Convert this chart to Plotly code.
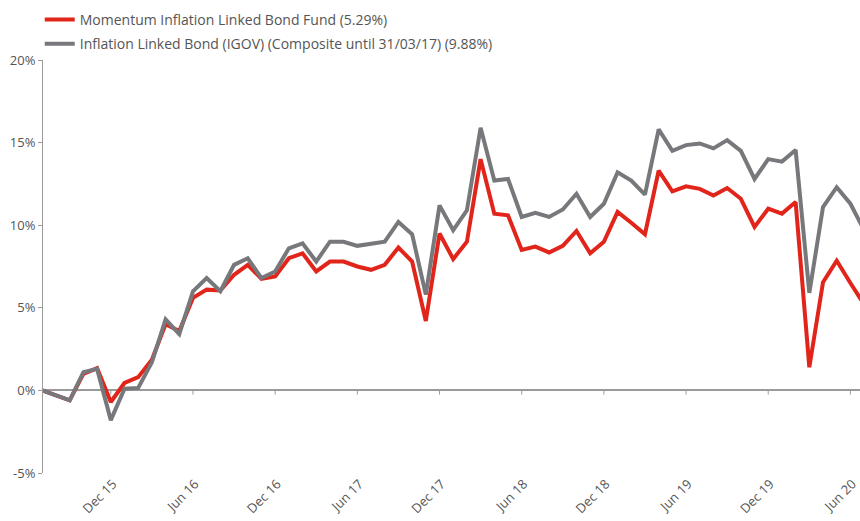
import plotly.graph_objects as go

# Monthly categories Jul 15 .. Jul 20
years = ["15", "16", "17", "18", "19", "20"]
mnames = ["Jan", "Feb", "Mar", "Apr", "May", "Jun", "Jul", "Aug", "Sep", "Oct", "Nov", "Dec"]
months = []
for yy in years:
    for mi, mm in enumerate(mnames):
        if yy == "15" and mi < 6:
            continue
        if yy == "20" and mi > 6:
            continue
        months.append(f"{mm} {yy}")

fund_name = "Momentum Inflation Linked Bond Fund (5.29%)"
bench_name = "Inflation Linked Bond (IGOV) (Composite until 31/03/17) (9.88%)"

fund = [0, -0.3, -0.6, 1.0, 1.35, -0.7, 0.45, 0.8, 1.85, 4.0,
        3.6, 5.6, 6.1, 6.05, 7.0, 7.6, 6.75, 6.9, 8.0, 8.3,
        7.2, 7.8, 7.8, 7.5, 7.3, 7.6, 8.65, 7.8, 4.2, 9.5,
        7.95, 9.0, 14.0, 10.7, 10.6, 8.5, 8.7, 8.35, 8.75, 9.65,
        8.3, 9.0, 10.8, 10.15, 9.45, 13.3, 12.05, 12.35, 12.2, 11.8,
        12.25, 11.6, 9.9, 11.0, 10.7, 11.4, 1.4, 6.55, 7.85, 6.5,
        5.2]

bench = [0, -0.3, -0.6, 1.1, 1.3, -1.8, 0.1, 0.15, 1.7, 4.3,
         3.4, 6.0, 6.8, 6.0, 7.6, 8.0, 6.8, 7.2, 8.6, 8.9,
         7.8, 9.0, 9.0, 8.75, 8.9, 9.0, 10.2, 9.45, 5.8, 11.2,
         9.7, 10.9, 15.9, 12.7, 12.8, 10.5, 10.75, 10.5, 10.95, 11.9,
         10.5, 11.3, 13.2, 12.7, 11.85, 15.8, 14.5, 14.85, 14.95, 14.65,
         15.15, 14.5, 12.8, 14.0, 13.85, 14.55, 5.9, 11.1, 12.3, 11.3,
         9.7]

tick_labels = ["Dec 15", "Jun 16", "Dec 16", "Jun 17", "Dec 17",
               "Jun 18", "Dec 18", "Jun 19", "Dec 19", "Jun 20"]
y_ticks = [-5, 0, 5, 10, 15, 20]
y_tick_text = [f"{v}%" for v in y_ticks]

RED = "#E1251B"
GREY = "#77787B"
AXIS = "#9A9A9A"
TXT = "#555555"
FONT = "Open Sans"

fig = go.Figure()
fig.add_trace(go.Scatter(x=months, y=fund, mode="lines", name=fund_name,
                         legendgroup="a", line=dict(color=RED, width=4)))
fig.add_trace(go.Scatter(x=months, y=bench, mode="lines", name=bench_name,
                         legendgroup="b", line=dict(color=GREY, width=4)))

# tick marks on the zero line
for t in tick_labels:
    fig.add_shape(type="line", xref="x", yref="y", x0=t, x1=t, y0=0, y1=-0.25,
                  line=dict(color=AXIS, width=1))

fig.update_layout(
    width=860, height=521,
    margin=dict(l=43, r=0, t=60, b=48, autoexpand=False),
    paper_bgcolor="white", plot_bgcolor="white",
    font=dict(family=FONT, color=TXT, size=13),
    showlegend=True,
    legend=dict(x=-0.004, y=1.1358, xanchor="left", yanchor="top",
                font=dict(family=FONT, size=14, color=TXT),
                bgcolor="rgba(0,0,0,0)", tracegroupgap=3),
    xaxis=dict(type="category", categoryorder="array", categoryarray=months,
               range=[0.05, 59.7], showline=False, showgrid=False, zeroline=False,
               tickmode="array", tickvals=tick_labels, ticktext=tick_labels,
               tickangle=-45, ticks="", automargin=False, ticklabelshift=2,
               tickfont=dict(size=13, color=TXT)),
    yaxis=dict(range=[-5, 20], tickmode="array", tickvals=y_ticks,
               ticktext=y_tick_text, automargin=False,
               showline=True, linecolor=AXIS, linewidth=1,
               ticks="outside", ticklen=4, tickcolor=AXIS, showgrid=False,
               zeroline=True, zerolinecolor=AXIS, zerolinewidth=1.5,
               tickfont=dict(size=13, color=TXT)),
)

fig.write_html(
    "out.html",
    config={"displayModeBar": False},
    post_script="document.body.style.margin='0';document.body.style.overflow='hidden';",
)
